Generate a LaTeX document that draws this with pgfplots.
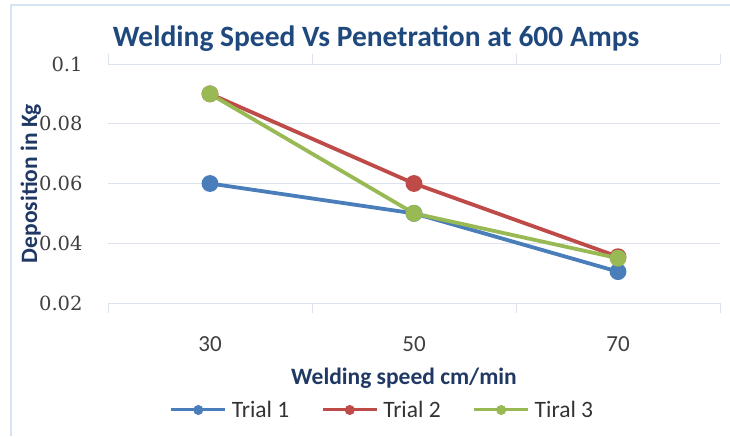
\documentclass[border=0pt]{standalone}
\usepackage{pgfplots}
\pgfplotsset{compat=1.18}
\usepackage{fontspec}
\setmainfont{Carlito}
\newfontfamily\tickfont{DejaVu Serif}
\definecolor{tblue}{HTML}{4A7EBB}
\definecolor{tred}{HTML}{BE4B48}
\definecolor{tgreen}{HTML}{98B954}
\definecolor{titleblue}{HTML}{1F497D}
\definecolor{labblue}{HTML}{1F3864}
\definecolor{gridc}{HTML}{DCE3EC}
\definecolor{borderc}{HTML}{D6E3F3}
\begin{document}
\begin{tikzpicture}
\path[use as bounding box] (0pt,0pt) rectangle (730pt,436pt);
\draw[borderc,line width=1.5pt] (11pt,0pt) -- (11pt,431pt) -- (730pt,431pt);
\begin{axis}[
  at={(108pt,133pt)}, anchor=south west,
  scale only axis, width=612pt, height=239pt,
  xmin=0, xmax=3, ymin=0.02, ymax=0.1,
  xtick={0.5,1.5,2.5}, xticklabels={30,50,70},
  minor xtick={0,1,2,3},
  major x tick style={draw=none},
  minor x tick style={draw=gridc, line width=0.8pt},
  minor tick length=10pt,
  tick align=outside,
  ytick={0.02,0.04,...,0.1},
  yticklabels={0.02,0.04,0.06,0.08,0.1},
  ymajorgrids, grid style={gridc, line width=0.8pt},
  major y tick style={draw=none},
  axis line style={draw=none},
  xticklabel style={font=\fontsize{23}{23}\selectfont\color{black!75}, anchor=center, yshift=-37pt},
  yticklabel style={font=\tickfont\fontsize{19.5}{19.5}\selectfont\color{black!75}, anchor=east, inner xsep=0pt, xshift=-21pt},
  xlabel={Welding speed cm/min},
  xlabel style={font=\bfseries\fontsize{23.5}{23.5}\selectfont\color{labblue}, at={(0.4837,-0.314)}, anchor=center},
  ylabel={Deposition in Kg},
  ylabel style={font=\bfseries\fontsize{23.5}{23.5}\selectfont\color{labblue}, at={(-0.126,0.5)}, anchor=center},
  title={Welding Speed Vs Penetration at 600 Amps},
  title style={font=\bfseries\fontsize{29.5}{29.5}\selectfont\color{titleblue}, at={(0.438,1)}, anchor=center, yshift=19pt},
  clip=false,
  legend style={at={(0.4485,-0.4477)}, anchor=center, draw=none, fill=none, legend columns=3,
    font=\fontsize{23.5}{23.5}\selectfont\color{black!80}, inner xsep=0pt,
    /tikz/every odd column/.append style={column sep=3pt},
    /tikz/every even column/.append style={column sep=30pt}},
  legend image code/.code={
    \draw[#1, line width=3pt, mark=none] (0pt,0pt) -- (54pt,0pt);
    \draw[#1, mark size=4.5pt, mark options={line width=1pt}, mark repeat=1] plot coordinates {(27pt,0pt)};
  },
  every axis plot/.append style={line width=3.8pt, mark=*, mark size=6.5pt,
    mark options={draw=white, line width=1.2pt}},
]
\addplot[tblue, mark options={fill=tblue}] coordinates {(0.5,0.06) (1.5,0.05) (2.5,0.0305)};
\addlegendentry{Trial 1}
\addplot[tred, mark options={fill=tred}] coordinates {(0.5,0.09) (1.5,0.06) (2.5,0.0355)};
\addlegendentry{Trial 2}
\addplot[tgreen, mark options={fill=tgreen}] coordinates {(0.5,0.09) (1.5,0.05) (2.5,0.035)};
\addlegendentry{Tiral 3}
\draw[gridc, line width=0.8pt] (axis cs:0,0.02) -- (axis cs:3,0.02);
\end{axis}
\end{tikzpicture}
\end{document}
